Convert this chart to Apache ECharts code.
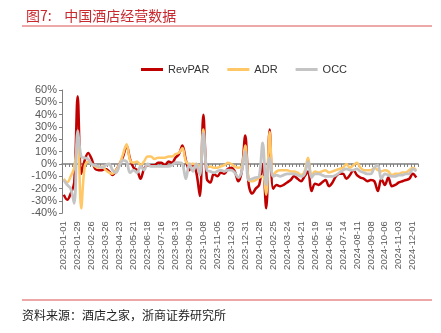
<!DOCTYPE html>
<html>
<head>
<meta charset="utf-8">
<script src="https://cdn.jsdelivr.net/npm/echarts@6/dist/echarts.min.js"></script>
<style>
  html, body { margin: 0; padding: 0; background: #fff; }
  #chart { width: 441px; height: 333px; }
</style>
</head>
<body>
<div id="chart"></div>
<script>
// Weekly hotel operating data (YoY %), weeks starting 2023-01-01
const weekStart = '2023-01-01';
const weekCount = 102;

const revpar = [
  -25, -29, -24, -15, 55, -8, 3, 9, 4, -4,
  -5, -5, -4, -6, -9, -5, 0, 6, 15, 4,
  -3, -5, -12, -4, -1, -1, -1, 1, 1, -1,
  2, 1, 5, 8, 15, 3, -5, 0, -7, -26,
  40, -12, -15, -8, -10, -7, -8, -4, -3, -6,
  -14, -6, 23, -17, -24, -20, -17, 0, -36, 28,
  -20, -17, -18, -17, -15, -13, -10, -12, -14, -10,
  -6, -22, -16, -17, -15, -13, -18, -15, -10, -8,
  -8, -12, -9, -5, -9, -11, -12, -14, -13, -14,
  -22, -12, -17, -11, -18, -17, -15, -14, -13, -12,
  -8, -11
];

const adr = [
  -12, -15, -10, -3, 20, -36, -2, 2, 0, -2,
  -3, -2, -5, -7, -8, -5, 0, 8, 16, 3,
  1, 2, -1, 2, 6, 6, 4, 5, 5, 5,
  6, 6, 8, 9, 13, 2, 0, 0, 0, -2,
  28, -3, -2, -3, -3, -2, -1, 1, 0, -2,
  -3, -2, 15, -13, -14, -13, -11, -10, -25, 26,
  -9, -6, -5, -5, -5, -6, -6, -7, -9, -6,
  5, -9, -6, -7, -6, -5, -7, -6, -5, -4,
  -3, 0, -3, -1, 1, -3, -5, -5, -5, -3,
  -5, -6, -5, -6, -9, -8, -8, -7, -7, -5,
  -3, -5
];

const occ = [
  -13, -17, -20, -32, 27, 6, 5, 4, 0, -1,
  -2, -3, -1, 0, -5, -7, -1, 3, 2, -7,
  -5, -7, -2, -5, 0, -2, -2, -2, -2, -2,
  -2, -1, 1, 1, 0, -12, 0, -6, 0, -9,
  25, -5, -6, -7, -6, -5, -6, -5, -5, -7,
  -11, -6, 10, -13, -12, -11, -10, 17, -17, 5,
  -10, -9, -10, -9, -8, -8, -8, -9, -10, -8,
  2, -11, -8, -8, -9, -10, -10, -10, -9, -7,
  -5, -4, -5, -5, -4, -6, -7, -8, -8, -3,
  -1, -12, -8, -9, -10, -10, -9, -9, -8, -8,
  -4, -6
];

const yTicks = { min: -40, max: 60, step: 10 };

// Build weekly category labels (YYYY-MM-DD)
function buildWeeks(start, n) {
  const out = [];
  const d = new Date(start + 'T00:00:00Z');
  for (let i = 0; i < n; i++) {
    const t = new Date(d.getTime() + i * 7 * 86400000);
    const mm = String(t.getUTCMonth() + 1).padStart(2, '0');
    const dd = String(t.getUTCDate()).padStart(2, '0');
    out.push(t.getUTCFullYear() + '-' + mm + '-' + dd);
  }
  return out;
}
const weeks = buildWeeks(weekStart, weekCount);

const chart = echarts.init(document.getElementById('chart'), null, { renderer: 'canvas' });

const axisGray = '#7F7F7F';
const labelColor = '#595959';
const font = 'Liberation Sans, Arial, sans-serif';

function lineSeries(name, data, color, width) {
  return {
    name: name,
    type: 'line',
    data: data,
    xAxisIndex: 0,
    symbol: 'none',
    smooth: 0.35,
    lineStyle: { color: color, width: width },
    itemStyle: { color: color },
    emphasis: { disabled: true }
  };
}

chart.setOption({
  animation: false,
  backgroundColor: '#fff',
  textStyle: { fontFamily: font },
  title: {
    text: '图7:    中国酒店经营数据',
    left: 21,
    top: 4,
    textStyle: {
      color: '#C8282E',
      fontSize: 14,
      fontWeight: 'normal',
      fontFamily: 'Noto Sans CJK SC'
    }
  },
  graphic: [
    { type: 'line', shape: { x1: 22, y1: 26, x2: 432, y2: 26 }, style: { stroke: '#D9534F', lineWidth: 1 } },
    { type: 'line', shape: { x1: 22, y1: 300, x2: 432, y2: 300 }, style: { stroke: '#D9534F', lineWidth: 1 } },
    {
      type: 'text', left: 22, top: 309,
      style: { text: '资料来源：酒店之家，浙商证券研究所', fill: '#222', font: '12px "Noto Sans CJK SC"' }
    }
  ],
  legend: {
    top: 59,
    left: 136,
    icon: 'rect',
    itemWidth: 22,
    itemHeight: 3,
    itemGap: 18,
    textStyle: { color: '#333', fontSize: 11, fontFamily: font },
    data: ['RevPAR', 'ADR', 'OCC']
  },
  grid: { left: 62, right: 23, top: 90, bottom: 119.7, containLabel: false },
  xAxis: [
    {
      type: 'category',
      data: weeks,
      boundaryGap: true,
      axisLine: { onZero: true, lineStyle: { color: axisGray, width: 1.5 } },
      axisTick: { show: true, interval: 0, length: 3, lineStyle: { color: axisGray } },
      axisLabel: { show: false }
    },
    {
      type: 'category',
      data: weeks,
      position: 'bottom',
      boundaryGap: true,
      axisLine: { show: false, onZero: false },
      axisTick: { show: false },
      axisLabel: {
        interval: 3,
        rotate: 90,
        margin: 8,
        color: labelColor,
        fontSize: 9.5,
        fontFamily: font
      }
    }
  ],
  yAxis: {
    type: 'value',
    min: yTicks.min,
    max: yTicks.max,
    interval: yTicks.step,
    splitLine: { show: false },
    axisLine: { show: true, lineStyle: { color: axisGray } },
    axisTick: { show: true, length: 3, lineStyle: { color: axisGray } },
    axisLabel: { formatter: '{value}%', color: labelColor, fontSize: 11, margin: 5, fontFamily: font }
  },
  series: [
    lineSeries('RevPAR', revpar, '#C00000', 2.5),
    lineSeries('ADR', adr, '#FFC766', 2.5),
    lineSeries('OCC', occ, '#C4C4C4', 2.8)
  ]
});
</script>
</body>
</html>
